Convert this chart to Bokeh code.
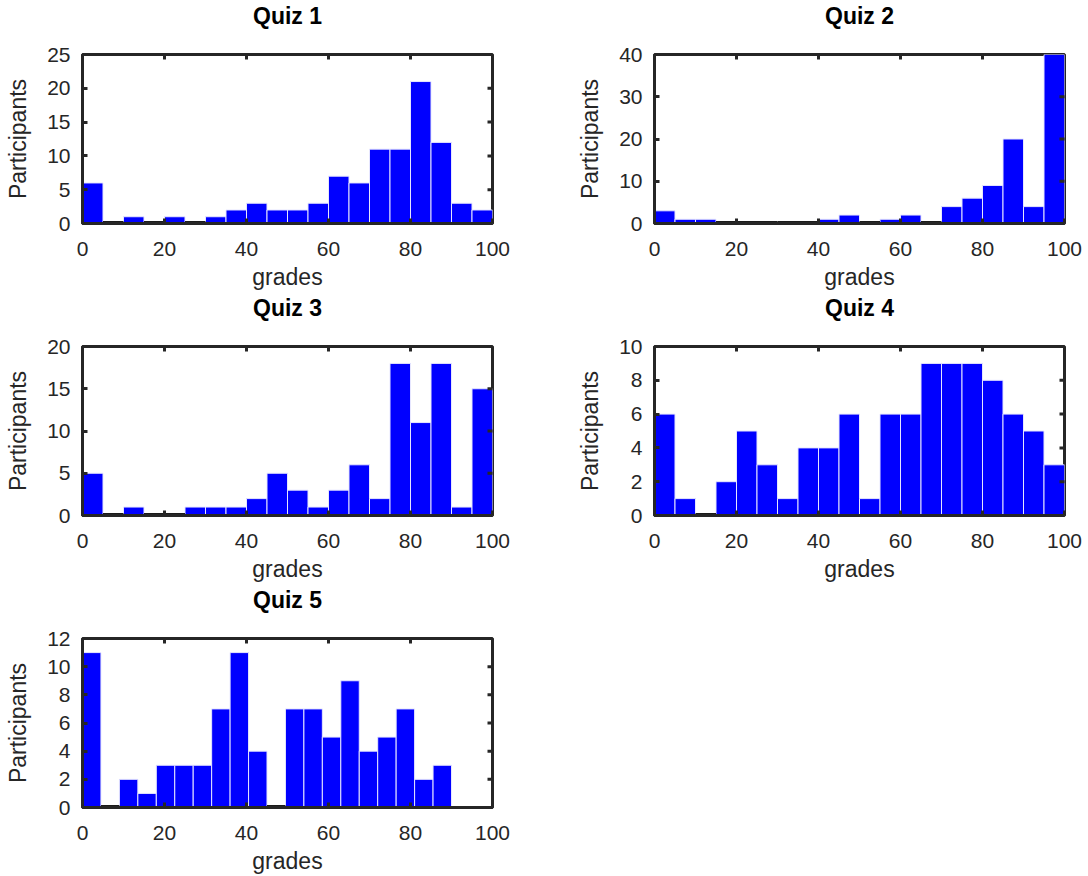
import math
from bokeh.plotting import figure
from bokeh.models import Range1d, FixedTicker
from bokeh.layouts import gridplot
from bokeh.embed import file_html
from bokeh.resources import INLINE

titles = ["Quiz 1", "Quiz 2", "Quiz 3", "Quiz 4", "Quiz 5"]
quiz1 = [6, 0, 1, 0, 1, 0, 1, 2, 3, 2, 2, 3, 7, 6, 11, 11, 21, 12, 3, 2]
quiz2 = [3, 1, 1, 0, 0, 0, 0, 0, 1, 2, 0, 1, 2, 0, 4, 6, 9, 20, 4, 40]
quiz3 = [5, 0, 1, 0, 0, 1, 1, 1, 2, 5, 3, 1, 3, 6, 2, 18, 11, 18, 1, 15]
quiz4 = [6, 1, 0, 2, 5, 3, 1, 4, 4, 6, 1, 6, 6, 9, 9, 9, 8, 6, 5, 3]
quiz5 = [11, 0, 2, 1, 3, 3, 3, 7, 11, 4, 0, 7, 7, 5, 9, 4, 5, 7, 2, 3]
bin_widths = [5, 5, 5, 5, 4.5]
y_max = [25, 40, 20, 10, 12]
y_step = [5, 10, 5, 2, 2]
x_ticks = [0, 20, 40, 60, 80, 100]
x_label = "grades"
y_label = "Participants"

counts = [quiz1, quiz2, quiz3, quiz4, quiz5]

FONT = "Liberation Sans"
AX = "#262626"


def style_axis(ax):
    ax.axis_line_width = 3
    ax.axis_line_color = AX
    ax.major_tick_in = 5
    ax.major_tick_out = 0
    ax.major_tick_line_width = 3
    ax.major_tick_line_color = AX
    ax.minor_tick_line_color = None
    ax.major_label_text_font = FONT
    ax.major_label_text_color = AX
    ax.major_label_text_font_size = "21px"
    ax.axis_label_text_font = FONT
    ax.axis_label_text_font_size = "23px"
    ax.axis_label_text_font_style = "normal"
    ax.axis_label_text_color = AX


def make(i, left_border, right_border):
    vals = counts[i]
    w = bin_widths[i]
    ymax = y_max[i]
    # trailing newline gives the title an empty second line, lifting it upward
    p = figure(width=544, height=292, output_backend="svg", toolbar_location=None,
               x_range=Range1d(0, 100), y_range=Range1d(0, ymax),
               min_border_left=left_border, min_border_right=right_border,
               min_border_top=53, min_border_bottom=69,
               title=titles[i] + "\n")
    p.grid.visible = False
    p.outline_line_color = AX
    p.outline_line_width = 3
    p.background_fill_color = "white"
    p.border_fill_color = "white"
    p.title.text_font = FONT
    p.title.text_font_size = "23px"
    p.title.text_font_style = "bold"
    p.title.text_color = "black"
    p.title.align = "center"
    p.title.standoff = 0

    lefts = [k * w for k in range(len(vals))]
    rights = [(k + 1) * w for k in range(len(vals))]
    nz = [k for k, v in enumerate(vals) if v > 0]
    z = [k for k, v in enumerate(vals) if v == 0]
    p.quad(left=[lefts[k] for k in nz], right=[rights[k] for k in nz],
           bottom=0, top=[vals[k] for k in nz],
           fill_color="#0000FF", line_color="#E6E6FF", line_width=1)
    if z:
        p.segment(x0=[lefts[k] for k in z], x1=[rights[k] for k in z],
                  y0=0, y1=0, line_color="#1a1a1a", line_width=5)

    yt = list(range(0, ymax + 1, y_step[i]))
    p.xaxis.ticker = FixedTicker(ticks=x_ticks)
    p.yaxis.ticker = FixedTicker(ticks=yt)
    p.xaxis.axis_label = x_label
    p.yaxis.axis_label = y_label
    style_axis(p.xaxis[0])
    style_axis(p.yaxis[0])
    p.xaxis.major_label_standoff = 18
    p.xaxis.axis_label_standoff = 5
    p.yaxis.major_label_standoff = 12
    p.yaxis.axis_label_standoff = 13

    # inward tick marks on the top and right edges of the box
    inner_x = x_ticks[1:-1]
    p.scatter(x=inner_x, y=[ymax] * len(inner_x), marker="dash", size=10,
              angle=math.pi / 2, line_color=AX, line_width=3)
    inner_y = yt[1:-1]
    p.scatter(x=[100] * len(inner_y), y=inner_y, marker="dash", size=10,
              line_color=AX, line_width=3)
    return p


p1 = make(0, 82, 52)
p2 = make(1, 110, 24)
p3 = make(2, 82, 52)
p4 = make(3, 110, 24)
p5 = make(4, 82, 52)

grid = gridplot([[p1, p2], [p3, p4], [p5, None]], toolbar_location=None)

open("out.html", "w").write(file_html(grid, INLINE))
